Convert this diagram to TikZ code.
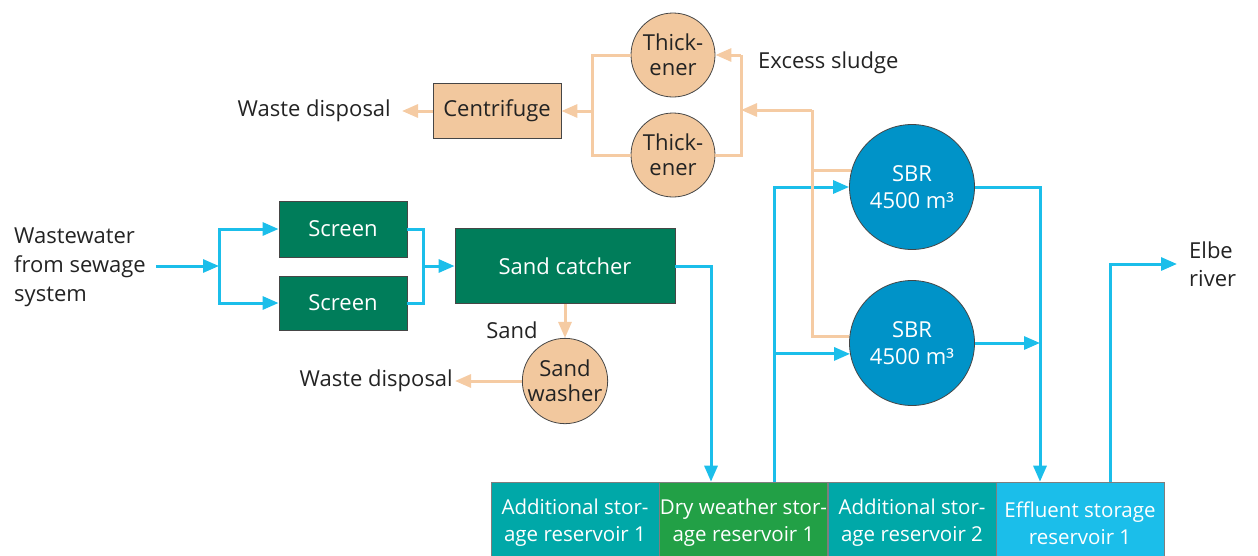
\documentclass[tikz,border=0pt]{standalone}
\usepackage{fontspec}
\setmainfont{Open Sans}
\usetikzlibrary{arrows.meta,calc}
\definecolor{tanfill}{RGB}{242,200,158}
\definecolor{tanline}{RGB}{245,203,163}
\definecolor{flowblue}{RGB}{27,190,234}
\definecolor{boxgreen}{RGB}{0,125,90}
\definecolor{sbrblue}{RGB}{0,147,200}
\definecolor{resteal}{RGB}{0,168,168}
\definecolor{resgreen}{RGB}{34,160,70}
\definecolor{rescyan}{RGB}{27,190,234}
\definecolor{txtdark}{RGB}{35,35,35}
\definecolor{edgegray}{RGB}{70,70,70}
\begin{document}
\begin{tikzpicture}[x=1pt,y=-1pt,
  every node/.style={font=\fontsize{22}{26}\selectfont, text=txtdark},
  txtlbl/.style={inner sep=2pt, align=left},
  tanbox/.style={draw=edgegray, line width=0.8pt, fill=tanfill, minimum width=128pt, minimum height=55pt, inner sep=0pt},
  tancirc/.style={circle, draw=edgegray, line width=0.8pt, fill=tanfill, minimum size=84pt, inner sep=0pt, align=center, font=\fontsize{22}{25}\selectfont},
  greenbox/.style={draw=edgegray, line width=0.8pt, fill=boxgreen, text=white, inner sep=0pt},
  sbr/.style={circle, draw=edgegray, line width=0.8pt, fill=sbrblue, text=white, minimum size=125pt, inner sep=0pt, align=center, font=\fontsize{22}{27}\selectfont},
  resbox/.style={draw=edgegray!70, line width=0.6pt, minimum width=168pt, minimum height=82pt, inner sep=0pt, align=center, text=white, font=\fontsize{20.5}{27}\selectfont},
  bline/.style={draw=flowblue, line width=3pt, -{Triangle[length=16pt,width=13pt]}},
  bplain/.style={draw=flowblue, line width=3pt},
  oline/.style={draw=tanline, line width=3pt, -{Triangle[length=16pt,width=13pt]}},
  oplain/.style={draw=tanline, line width=3pt}
]
\useasboundingbox (0,0) rectangle (1258,555);

% ---------- junction coordinates ----------
\coordinate (j1) at (219,266);
\coordinate (j2) at (423,266);
\coordinate (xs) at (711,0);
\coordinate (xf) at (774,0);
\coordinate (xo) at (1040,0);
\coordinate (xe) at (1110,0);
\coordinate (jc) at (592,111);
\coordinate (jt) at (741,110);
\coordinate (js) at (812,110);

% ---------- nodes ----------
\node[txtlbl, anchor=west, font=\fontsize{22}{29}\selectfont] (ww) at (12,267) {Wastewater\\from sewage\\system};
\node[greenbox, minimum width=128pt, minimum height=56pt] (scr1) at (343,229) {Screen};
\node[greenbox, minimum width=128pt, minimum height=54pt] (scr2) at (343,303) {Screen};
\node[greenbox, minimum width=220pt, minimum height=75pt] (sand) at (565,266) {Sand catcher};
\node[txtlbl] (sandlbl) at (512,330) {Sand};
\node[tancirc] (wash) at (565,381) {Sand\\washer};
\node[txtlbl, anchor=east] (wd2) at (455,381) {Waste disposal};

\node[tanbox] (cent) at (497,111) {Centrifuge};
\node[txtlbl, anchor=east, inner xsep=11pt] (wd1) at (402,111) {Waste disposal};
\node[tancirc] (th1) at (673,55) {Thick-\\ener};
\node[tancirc] (th2) at (673,155) {Thick-\\ener};
\node[txtlbl, anchor=west] (exc) at (756,63) {Excess sludge};

\node[sbr] (sbr1) at (912,187) {SBR\\4500 m³};
\node[sbr] (sbr2) at (912,343) {SBR\\4500 m³};

\node[txtlbl, anchor=west, inner xsep=12pt, font=\fontsize{22}{28}\selectfont] (elbe) at (1177,264) {Elbe\\river};

\node[resbox, fill=resteal] (res1) at (575,523) {Additional stor-\\age reservoir 1};
\node[resbox, fill=resgreen] (res2) at (743.5,523) {Dry weather stor-\\age reservoir 1};
\node[resbox, fill=resteal] (res3) at (912,523) {Additional stor-\\age reservoir 2};
\node[resbox, fill=rescyan] (res4) at (1080,523) {Effluent storage\\reservoir 1};

% ---------- blue flow ----------
\draw[bline] ([xshift=8pt]ww.east |- j1) -- (j1);
\draw[bline] (j1) |- (scr1.west);
\draw[bline] (j1) |- (scr2.west);
\draw[bplain] (scr1.east) -| (j2);
\draw[bplain] (scr2.east) -| (j2);
\draw[bline] (j2) -- (sand.west);
\draw[bline] (sand.east) -| (res2.north -| xs);
\draw[bline] (res2.north -| xf) |- (sbr1.west);
\draw[bline] (xf |- sbr2.190) -- (sbr2.190);
\draw[bline] (sbr1.east) -| (res4.north -| xo);
\draw[bline] (sbr2.east) -- (sbr2.east -| xo);
\draw[bline] (res4.north -| xe) |- (elbe.west);

% ---------- sludge / sand flow ----------
\draw[oline] (sand.south) -- (wash.north);
\draw[oline] (wash.west) -- (wd2.east);
\draw[oline] (cent.west) -- (wd1.east);
\draw[oplain] (th1.west) -| (jc);
\draw[oplain] (th2.west) -| (jc);
\draw[oline] (jc) -- (cent.east);
\draw[oline] (jt |- th1.east) -- (th1.east);
\draw[oplain] (th2.east) -| (jt);
\draw[oplain] (jt |- th1.east) -- (jt);
\draw[oline] (js) -- (jt);
\draw[oplain] (js) |- (sbr2.174);
\draw[oplain] (js |- sbr1.165) -- (sbr1.165);
\end{tikzpicture}
\end{document}
